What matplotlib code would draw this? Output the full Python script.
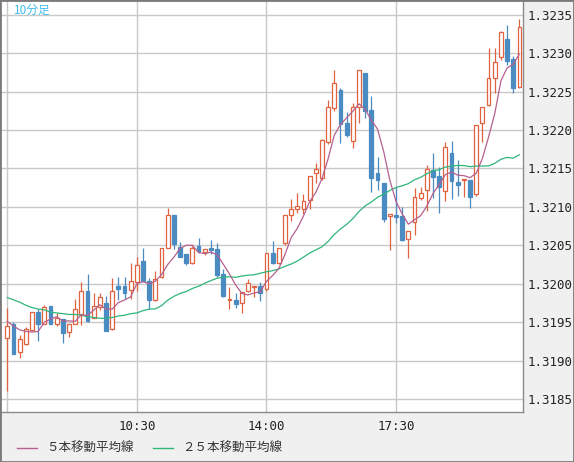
import numpy as np
import matplotlib
matplotlib.use("Agg")
import matplotlib.pyplot as plt
from matplotlib.patches import Rectangle
from matplotlib.lines import Line2D

# ---- data (10-minute bars, 07:00 .. 20:50) ----
opens = [1.31929, 1.31948, 1.31911, 1.31921, 1.31940, 1.31963, 1.31948, 1.31971, 1.31948, 1.31954,
         1.31937, 1.31948, 1.31961, 1.31991, 1.31956, 1.31970, 1.31975, 1.31941, 1.31997, 1.31997,
         1.31992, 1.32002, 1.32030, 1.32004, 1.31979, 1.32009, 1.32047, 1.32090, 1.32048, 1.32039,
         1.32027, 1.32049, 1.32041, 1.32046, 1.32045, 1.32012, 1.31979, 1.31979, 1.31975, 1.31990,
         1.31996, 1.31997, 1.31993, 1.32040, 1.32027, 1.32053, 1.32090, 1.32097, 1.32097, 1.32109,
         1.32144, 1.32138, 1.32185, 1.32229, 1.32252, 1.32209, 1.32186, 1.32230, 1.32274, 1.32226,
         1.32144, 1.32131, 1.32088, 1.32089, 1.32088, 1.32058, 1.32080, 1.32112, 1.32122, 1.32148,
         1.32140, 1.32120, 1.32170, 1.32132, 1.32135, 1.32135, 1.32117, 1.32209, 1.32232, 1.32268,
         1.32295, 1.32318, 1.32292, 1.32256]
highs = [1.31968, 1.31950, 1.31933, 1.31944, 1.31963, 1.31967, 1.31972, 1.31971, 1.31962, 1.31954,
         1.31948, 1.31980, 1.32002, 1.32013, 1.31988, 1.31988, 1.31984, 1.32007, 1.32009, 1.32009,
         1.32027, 1.32035, 1.32046, 1.32008, 1.32017, 1.32047, 1.32099, 1.32090, 1.32054, 1.32039,
         1.32049, 1.32060, 1.32045, 1.32057, 1.32053, 1.32019, 1.31996, 1.31988, 1.31989, 1.32006,
         1.31997, 1.32002, 1.32040, 1.32056, 1.32046, 1.32089, 1.32110, 1.32118, 1.32117, 1.32140,
         1.32157, 1.32188, 1.32239, 1.32278, 1.32254, 1.32224, 1.32235, 1.32278, 1.32274, 1.32244,
         1.32165, 1.32131, 1.32091, 1.32126, 1.32100, 1.32068, 1.32125, 1.32126, 1.32154, 1.32170,
         1.32152, 1.32185, 1.32186, 1.32161, 1.32136, 1.32135, 1.32207, 1.32230, 1.32307, 1.32307,
         1.32329, 1.32337, 1.32296, 1.32345]
lows = [1.31860, 1.31908, 1.31904, 1.31920, 1.31939, 1.31925, 1.31948, 1.31948, 1.31945, 1.31923,
        1.31931, 1.31947, 1.31946, 1.31950, 1.31956, 1.31966, 1.31938, 1.31940, 1.31979, 1.31980,
        1.31980, 1.31990, 1.32003, 1.31967, 1.31978, 1.32008, 1.32046, 1.32045, 1.32035, 1.32024,
        1.32026, 1.32040, 1.32037, 1.32039, 1.32009, 1.31983, 1.31967, 1.31969, 1.31962, 1.31989,
        1.31983, 1.31977, 1.31991, 1.32026, 1.32026, 1.32050, 1.32082, 1.32092, 1.32091, 1.32097,
        1.32131, 1.32135, 1.32182, 1.32225, 1.32183, 1.32191, 1.32177, 1.32209, 1.32216, 1.32119,
        1.32122, 1.32080, 1.32044, 1.32079, 1.32055, 1.32033, 1.32064, 1.32109, 1.32094, 1.32112,
        1.32092, 1.32108, 1.32110, 1.32114, 1.32113, 1.32098, 1.32114, 1.32185, 1.32231, 1.32248,
        1.32291, 1.32284, 1.32248, 1.32255]
closes = [1.31945, 1.31909, 1.31928, 1.31941, 1.31963, 1.31948, 1.31970, 1.31948, 1.31956, 1.31936,
          1.31948, 1.31967, 1.31991, 1.31951, 1.31971, 1.31983, 1.31939, 1.31991, 1.31993, 1.31988,
          1.32004, 1.32024, 1.32004, 1.31979, 1.32006, 1.32046, 1.32090, 1.32052, 1.32035, 1.32027,
          1.32046, 1.32043, 1.32045, 1.32044, 1.32011, 1.31984, 1.31980, 1.31973, 1.31989, 1.32001,
          1.31997, 1.31988, 1.32040, 1.32027, 1.32046, 1.32089, 1.32097, 1.32101, 1.32107, 1.32140,
          1.32149, 1.32187, 1.32230, 1.32261, 1.32208, 1.32193, 1.32230, 1.32278, 1.32225, 1.32138,
          1.32135, 1.32084, 1.32091, 1.32087, 1.32057, 1.32068, 1.32113, 1.32118, 1.32149, 1.32139,
          1.32126, 1.32178, 1.32134, 1.32129, 1.32136, 1.32113, 1.32207, 1.32230, 1.32268, 1.32288,
          1.32327, 1.32290, 1.32255, 1.32334]

# moving-average values before enough visible bars exist
ma5_head = [1.31951, 1.31945, 1.31940, 1.31938]
ma25_head = [1.31982, 1.31979, 1.31976, 1.31972, 1.31969, 1.31967, 1.31966, 1.31963,
             1.31962, 1.31961, 1.31960, 1.31960, 1.31959, 1.31957, 1.31956, 1.31955,
             1.31955, 1.31956, 1.31958, 1.31959, 1.31961, 1.31962, 1.31965, 1.31967]

xtick_pos = [0, 21, 42, 63]
xtick_labels = ["", "10:30", "14:00", "17:30"]
yticks = [1.3185, 1.3190, 1.3195, 1.3200, 1.3205, 1.3210, 1.3215, 1.3220, 1.3225, 1.3230, 1.3235]
timeframe_label = "10分足"
legend_labels = ["５本移動平均線", "２５本移動平均線"]

# ---- styling ----
W, H = 574, 462
BULL = "#e0623f"
BEAR = "#4a8bc2"
MA5_C = "#b5608e"
MA25_C = "#2fb67a"
GRID = "#c8c8c8"
BG = "#f0f0f0"

o = np.array(opens); h = np.array(highs); l = np.array(lows); c = np.array(closes)
n = len(c)
x = np.arange(n)

def rolling(vals, k, head):
    out = list(head)
    for i in range(len(head), len(vals)):
        out.append(np.mean(vals[i - k + 1:i + 1]))
    return np.array(out)

ma5 = rolling(c, 5, ma5_head)
ma25 = rolling(c, 25, ma25_head)

fig = plt.figure(figsize=(W / 100, H / 100), dpi=100, facecolor=BG)
ax = fig.add_axes([1 / W, 50 / H, 522 / W, 411 / H], facecolor="white")

ax.set_xlim(-1.02, 83.58)
ax.set_ylim(1.318331, 1.323678)

ax.set_yticks(yticks)
ax.set_yticklabels([f"{v:.4f}" for v in yticks])
ax.yaxis.tick_right()
ax.set_xticks(xtick_pos)
ax.set_xticklabels(xtick_labels)
ax.tick_params(length=0, labelsize=9, colors="#222222")
ax.tick_params(axis="y", pad=3)
ax.tick_params(axis="x", pad=6)
for lab in ax.get_xticklabels() + ax.get_yticklabels():
    lab.set_family("DejaVu Sans Mono")
ax.grid(True, color=GRID, linewidth=1.0, zorder=0)
ax.set_axisbelow(True)

for s in ["left", "top"]:
    ax.spines[s].set_visible(False)
for s in ["right", "bottom"]:
    ax.spines[s].set_color("#8a8a8a")
    ax.spines[s].set_linewidth(1.0)

bull = c >= o
bear = ~bull
# wicks
ax.vlines(x[bull], l[bull], h[bull], color=BULL, linewidth=0.9, zorder=2)
ax.vlines(x[bear], l[bear], h[bear], color=BEAR, linewidth=0.9, zorder=2)
# bodies
bw = 0.62
ax.bar(x[bull], c[bull] - o[bull], bottom=o[bull], width=bw, facecolor="white",
       edgecolor=BULL, linewidth=0.9, zorder=3)
ax.bar(x[bear], o[bear] - c[bear], bottom=c[bear], width=bw, facecolor=BEAR,
       edgecolor=BEAR, linewidth=0.9, zorder=3)

ax.plot(x, ma25, color=MA25_C, linewidth=0.9, zorder=4)
ax.plot(x, ma5, color=MA5_C, linewidth=0.9, zorder=4)

# timeframe label
fig.text(14 / W, 1 - 10 / H, timeframe_label, color="#3cbcec", fontsize=8.5,
         family=["Noto Sans CJK JP", "DejaVu Sans"], va="center", ha="left")

# legend (manual)
ly = 1 - 448 / H
fig.add_artist(Line2D([16.5 / W, 36.6 / W], [ly, ly], color=MA5_C, linewidth=1.0))
fig.text(46 / W, ly, legend_labels[0], fontsize=9, color="#333333",
         family=["Noto Sans CJK JP", "DejaVu Sans"], va="center", ha="left")
fig.add_artist(Line2D([153 / W, 173 / W], [ly, ly], color=MA25_C, linewidth=1.0))
fig.text(182 / W, ly, legend_labels[1], fontsize=9, color="#333333",
         family=["Noto Sans CJK JP", "DejaVu Sans"], va="center", ha="left")

# outer frame
fig.add_artist(Rectangle((0, 0), 1, 1, transform=fig.transFigure, fill=False,
                         edgecolor="#7a7a7a", linewidth=2.0))

fig.savefig("out.png", dpi=100, facecolor=BG)
